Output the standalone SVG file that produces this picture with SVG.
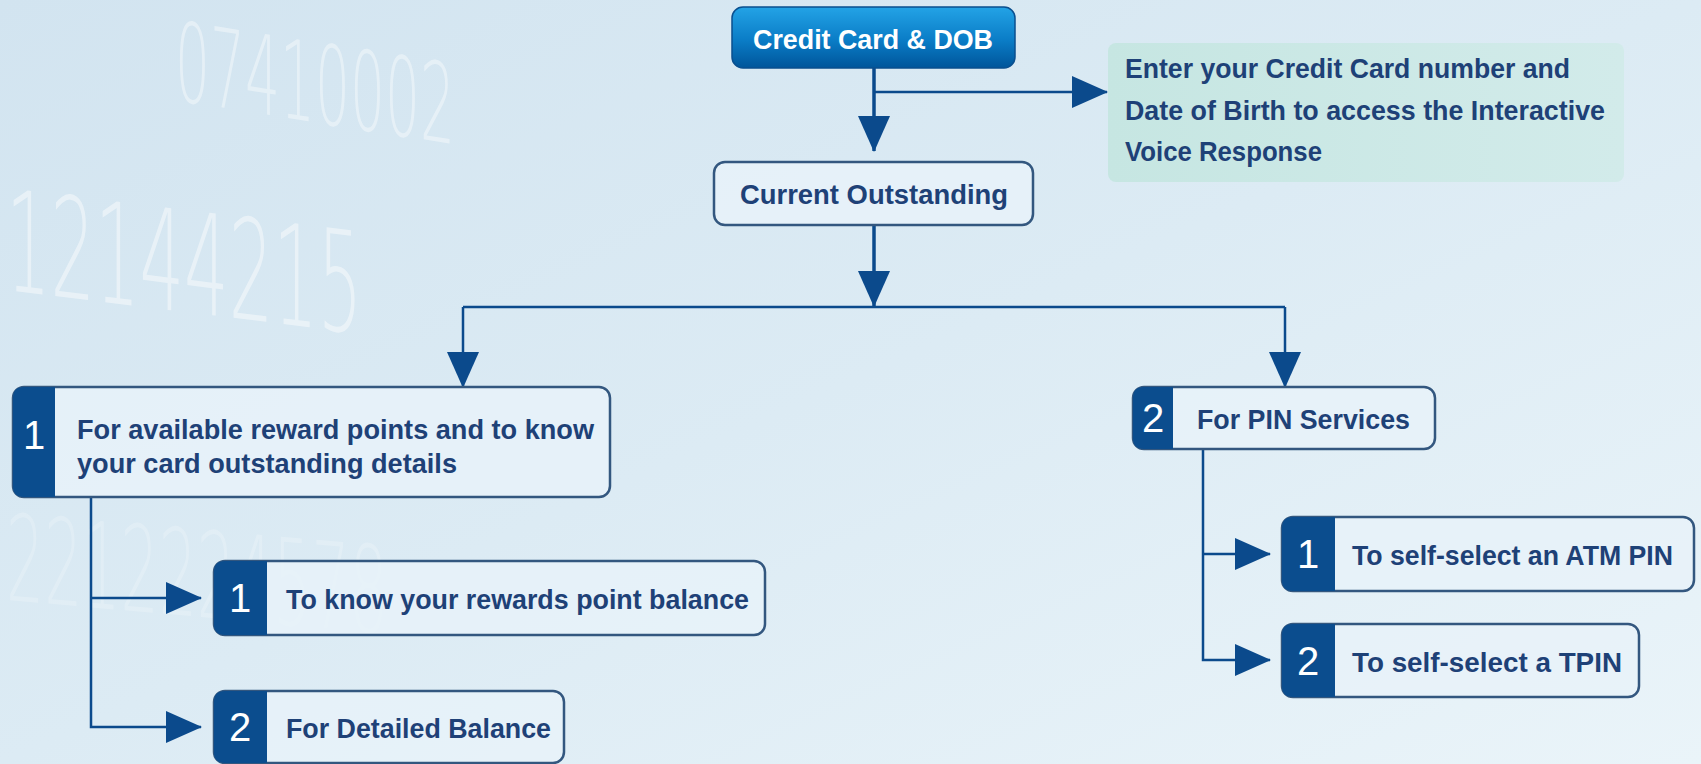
<svg xmlns="http://www.w3.org/2000/svg" width="1701" height="764" viewBox="0 0 1701 764">
  <defs>
    <linearGradient id="bg" x1="0" y1="0" x2="1" y2="1">
      <stop offset="0" stop-color="#d2e4f0"/>
      <stop offset="0.5" stop-color="#dcebf4"/>
      <stop offset="1" stop-color="#eaf4f9"/>
    </linearGradient>
    <linearGradient id="blueBtn" x1="0" y1="0" x2="0" y2="1">
      <stop offset="0" stop-color="#23a3e6"/>
      <stop offset="0.55" stop-color="#0a7cc6"/>
      <stop offset="1" stop-color="#00559a"/>
    </linearGradient>
    <linearGradient id="info" x1="0" y1="0" x2="1" y2="0">
      <stop offset="0" stop-color="#c6e6e2"/>
      <stop offset="1" stop-color="#d2ebea"/>
    </linearGradient>
    <marker id="arr" viewBox="0 0 36 32" refX="35" refY="16" markerWidth="36" markerHeight="32" markerUnits="userSpaceOnUse" orient="auto">
      <path d="M0,0 L36,16 L0,32 Z" fill="#0b4a8c"/>
    </marker>
    <style>
      .bgnum { font-family: "DejaVu Sans ExtraLight", "DejaVu Sans", sans-serif; font-weight: 200; fill: #ffffff; }
      .box { fill: #e7f2f9; fill-opacity: 0.85; stroke: #33577f; stroke-width: 2.5; }
      .tab { fill: #0b4d8e; }
      .lbl { font-family: "Liberation Sans", Arial, sans-serif; font-weight: bold; font-size: 28px; fill: #1e4177; }
      .num { font-family: "Liberation Sans", Arial, sans-serif; font-size: 40px; fill: #ffffff; text-anchor: middle; }
      .conn { fill: none; stroke: #0b4a8c; stroke-width: 2.5; }
      .main { stroke-width: 3.5; }
    </style>
  </defs>

  <rect x="0" y="0" width="1701" height="764" fill="url(#bg)"/>

  <g id="background-digits">
    <text class="bgnum" x="0" y="0" font-size="140" opacity="0.45" transform="translate(6,290) skewY(7) scale(0.5,1)">12144215</text>
    <text class="bgnum" x="0" y="0" font-size="110" opacity="0.4" transform="translate(175,100) skewY(9) scale(0.5,1)">07410002</text>
    <text class="bgnum" x="0" y="0" font-size="120" opacity="0.2" transform="translate(6,600) skewY(5) scale(0.5,1)">2212224578</text>
  </g>

  <g id="connectors">
    <path class="conn main" d="M874,68 V151" marker-end="url(#arr)"/>
    <path class="conn" d="M874,92 H1107" marker-end="url(#arr)"/>
    <path class="conn main" d="M874,225 V306" marker-end="url(#arr)"/>
    <path class="conn" d="M463,307 H1285"/>
    <path class="conn" d="M463,307 V387" marker-end="url(#arr)"/>
    <path class="conn" d="M1285,307 V387" marker-end="url(#arr)"/>
    <path class="conn" d="M91,497 V727 H201" marker-end="url(#arr)"/>
    <path class="conn" d="M91,598 H201" marker-end="url(#arr)"/>
    <path class="conn" d="M1203,449 V660 H1270" marker-end="url(#arr)"/>
    <path class="conn" d="M1203,554 H1270" marker-end="url(#arr)"/>
  </g>

  <g id="node-credit-card">
    <rect x="732" y="7" width="283" height="61" rx="11" fill="url(#blueBtn)" stroke="#0a4f8f" stroke-width="1.5"/>
    <text class="lbl" x="753" y="49" font-size="29" textLength="240" lengthAdjust="spacingAndGlyphs" style="fill:#ffffff">Credit Card &amp; DOB</text>
  </g>

  <g id="node-info">
    <rect x="1108" y="43" width="516" height="139" rx="8" fill="url(#info)"/>
    <text class="lbl" x="1125" y="78" font-size="27" textLength="445" lengthAdjust="spacingAndGlyphs">Enter your Credit Card number and</text>
    <text class="lbl" x="1125" y="120" font-size="27" textLength="480" lengthAdjust="spacingAndGlyphs">Date of Birth to access the Interactive</text>
    <text class="lbl" x="1125" y="161" font-size="27" textLength="197" lengthAdjust="spacingAndGlyphs">Voice Response</text>
  </g>

  <g id="node-current-outstanding">
    <rect class="box" x="714" y="162" width="319" height="63" rx="11"/>
    <text class="lbl" x="740" y="204" font-size="29" textLength="268" lengthAdjust="spacingAndGlyphs">Current Outstanding</text>
  </g>

  <g id="node-option-1">
    <rect class="box" x="13" y="387" width="597" height="110" rx="11"/>
    <path class="tab" d="M55,387 V497 H24 Q13,497 13,486 V398 Q13,387 24,387 Z"/>
    <text class="num" x="34" y="449">1</text>
    <text class="lbl" x="77" y="439" font-size="28" textLength="517" lengthAdjust="spacingAndGlyphs">For available reward points and to know</text>
    <text class="lbl" x="77" y="473" font-size="28" textLength="380" lengthAdjust="spacingAndGlyphs">your card outstanding details</text>
  </g>

  <g id="node-option-2">
    <rect class="box" x="1133" y="387" width="302" height="62" rx="11"/>
    <path class="tab" d="M1173,387 V449 H1144 Q1133,449 1133,438 V398 Q1133,387 1144,387 Z"/>
    <text class="num" x="1153" y="432">2</text>
    <text class="lbl" x="1197" y="429" font-size="28" textLength="213" lengthAdjust="spacingAndGlyphs">For PIN Services</text>
  </g>

  <g id="node-rewards-balance">
    <rect class="box" x="214" y="561" width="551" height="74" rx="11"/>
    <path class="tab" d="M267,561 V635 H225 Q214,635 214,624 V572 Q214,561 225,561 Z"/>
    <text class="num" x="240" y="612">1</text>
    <text class="lbl" x="286" y="609" font-size="28" textLength="463" lengthAdjust="spacingAndGlyphs">To know your rewards point balance</text>
  </g>

  <g id="node-detailed-balance">
    <rect class="box" x="214" y="691" width="350" height="72" rx="11"/>
    <path class="tab" d="M267,691 V763 H225 Q214,763 214,752 V702 Q214,691 225,691 Z"/>
    <text class="num" x="240" y="741">2</text>
    <text class="lbl" x="286" y="738" font-size="28" textLength="265" lengthAdjust="spacingAndGlyphs">For Detailed Balance</text>
  </g>

  <g id="node-atm-pin">
    <rect class="box" x="1282" y="517" width="412" height="74" rx="11"/>
    <path class="tab" d="M1335,517 V591 H1293 Q1282,591 1282,580 V528 Q1282,517 1293,517 Z"/>
    <text class="num" x="1308" y="568">1</text>
    <text class="lbl" x="1352" y="565" font-size="28" textLength="321" lengthAdjust="spacingAndGlyphs">To self-select an ATM PIN</text>
  </g>

  <g id="node-tpin">
    <rect class="box" x="1282" y="624" width="357" height="73" rx="11"/>
    <path class="tab" d="M1335,624 V697 H1293 Q1282,697 1282,686 V635 Q1282,624 1293,624 Z"/>
    <text class="num" x="1308" y="675">2</text>
    <text class="lbl" x="1352" y="672" font-size="28" textLength="270" lengthAdjust="spacingAndGlyphs">To self-select a TPIN</text>
  </g>
</svg>
